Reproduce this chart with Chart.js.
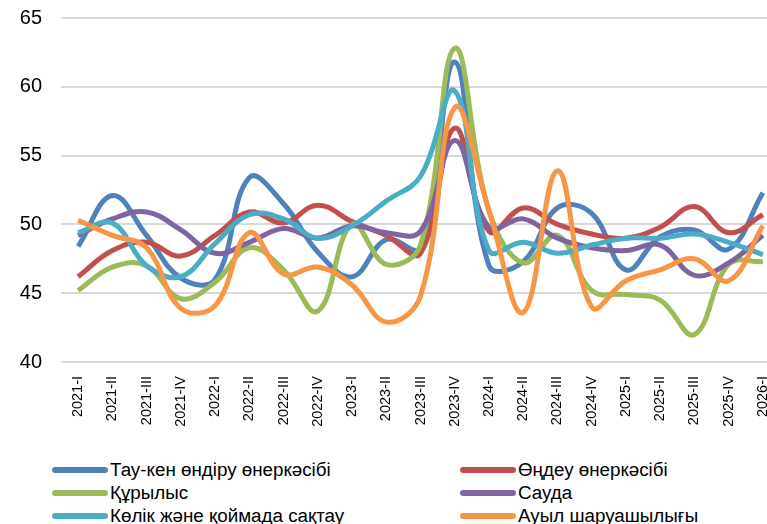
<!DOCTYPE html>
<html>
<head>
<meta charset="utf-8">
<script src="https://cdn.jsdelivr.net/npm/chart.js@4"></script>
<style>
    html, body { margin: 0; padding: 0; background: #fff; overflow: hidden; }
    body { width: 767px; height: 524px; position: relative; }
    #wrap { position: absolute; left: 0; top: -13px; width: 790px; height: 453px; }
    #legend { position: absolute; left: 0; top: 458px; width: 767px; font-family: 'Liberation Sans', Arial, sans-serif; font-size: 18.8px; color: #000; }
    .item { position: absolute; height: 24px; display: flex; align-items: center; white-space: nowrap; }
    .swatch { width: 56px; height: 6px; border-radius: 3px; margin-right: 2px; }
</style>
</head>
<body>
<div id="wrap"><canvas id="indexChart"></canvas></div>
<div id="legend"></div>
<script>
const quarters = ['2021-I', '2021-II', '2021-III', '2021-IV', '2022-I', '2022-II', '2022-III', '2022-IV',
    '2023-I', '2023-II', '2023-III', '2023-IV', '2024-I', '2024-II', '2024-III', '2024-IV',
    '2025-I', '2025-II', '2025-III', '2025-IV', '2026-I'];

const seriesNames = ['Тау-кен өндіру өнеркәсібі', 'Өңдеу өнеркәсібі', 'Құрылыс', 'Сауда',
    'Көлік және қоймада сақтау', 'Ауыл шаруашылығы'];

const mining = [48.4, 52.1, 49.2, 46.1, 46.0, 53.4, 51.5, 48.0, 46.2, 48.9, 48.3, 61.8, 47.0, 47.3, 51.2, 50.8, 46.7, 49.1, 49.6, 48.2, 52.3];
const manufacturing = [46.2, 48.1, 48.7, 47.7, 49.2, 50.9, 50.1, 51.4, 50.2, 49.2, 47.9, 57.0, 49.5, 51.2, 50.0, 49.3, 49.0, 49.8, 51.3, 49.4, 50.7];
const construction = [45.2, 46.9, 47.0, 44.6, 45.8, 48.3, 46.7, 43.7, 50.0, 47.1, 48.5, 62.8, 51.0, 47.2, 49.2, 45.2, 44.9, 44.5, 42.0, 47.1, 47.3];
const trade = [49.2, 50.4, 50.9, 49.6, 47.9, 48.7, 49.7, 49.0, 49.9, 49.4, 49.5, 56.1, 49.8, 50.4, 49.0, 48.3, 48.1, 48.5, 46.3, 47.2, 49.2];
const transport = [49.4, 50.1, 47.0, 46.2, 48.6, 50.7, 50.4, 49.0, 49.9, 51.7, 53.5, 59.7, 48.1, 48.7, 47.9, 48.5, 49.0, 49.0, 49.3, 48.7, 47.8];
const agriculture = [50.3, 49.2, 48.3, 43.9, 44.1, 49.4, 46.4, 46.9, 45.6, 42.9, 44.8, 58.5, 51.0, 43.6, 53.9, 44.0, 45.9, 46.7, 47.5, 45.9, 49.9];

const yTicks = [40, 45, 50, 55, 60, 65];

const seriesData = [mining, manufacturing, construction, trade, transport, agriculture];
const colors = ['#4f81bd', '#c0504d', '#9bbb59', '#8064a2', '#4bacc6', '#f79646'];

// legend in two columns, like the original
const legend = document.getElementById('legend');
seriesNames.forEach(function (name, i) {
    const item = document.createElement('div');
    item.className = 'item';
    item.style.left = (i % 2 === 0 ? 52 : 460) + 'px';
    item.style.top = (Math.floor(i / 2) * 23) + 'px';
    item.innerHTML = '<span class="swatch" style="background:' + colors[i] + '"></span><span>' + name + '</span>';
    legend.appendChild(item);
});

new Chart(document.getElementById('indexChart'), {
    type: 'line',
    data: {
        labels: quarters,
        datasets: seriesData.map(function (values, i) {
            return {
                label: seriesNames[i],
                data: values,
                borderColor: colors[i],
                backgroundColor: colors[i],
                borderWidth: 5,
                pointRadius: 0,
                tension: 0.4,
                fill: false,
                order: seriesData.length - i,
            };
        }),
    },
    options: {
        responsive: true,
        maintainAspectRatio: false,
        animation: false,
        layout: { padding: { top: 5, right: 10, left: 0, bottom: 0 } },
        plugins: {
            legend: { display: false },
            tooltip: { enabled: false },
        },
        scales: {
            x: {
                offset: true,
                grid: { display: false },
                border: { display: false },
                ticks: {
                    autoSkip: false,
                    maxRotation: 90,
                    minRotation: 90,
                    padding: 6,
                    color: '#000',
                    font: { family: "'Liberation Sans', Arial, sans-serif", size: 14.5 },
                },
                afterFit: function (scale) { scale.height = 78; },
            },
            y: {
                min: 40,
                max: 65,
                afterBuildTicks: function (scale) {
                    scale.ticks = yTicks.map(function (v) { return { value: v }; });
                },
                grid: { color: '#d9d9d9', lineWidth: 2, drawTicks: false },
                border: { display: false },
                ticks: {
                    padding: 19,
                    color: '#000',
                    font: { family: "'Liberation Sans', Arial, sans-serif", size: 20 },
                },
                afterFit: function (scale) { scale.width = 61; },
            },
        },
    },
});
</script>
</body>
</html>
